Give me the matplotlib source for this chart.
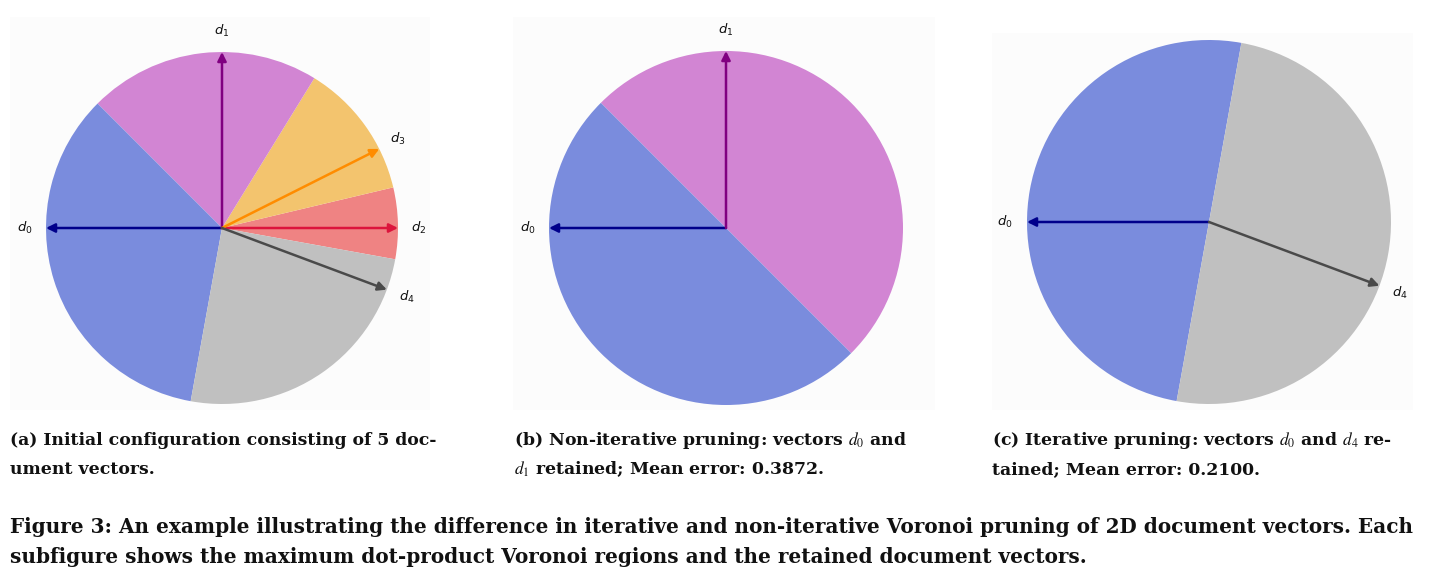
import numpy as np
import matplotlib
matplotlib.use('Agg')
import matplotlib.pyplot as plt
from matplotlib.patches import Wedge

# document vectors: name, angle (degrees), arrow colour, region colour
vec_names = ['d_0', 'd_1', 'd_2', 'd_3', 'd_4']
vec_angles = [180.0, 90.0, 0.0, 26.7, -20.5]
vec_colors = ['#00008b', '#800080', '#dc143c', '#ff8c00', '#4a4a4a']
region_colors = ['#7a8cdd', '#d285d3', '#ef8383', '#f3c46e', '#c0c0c0']

# retained vectors for each subfigure
panel_keep = [[0, 1, 2, 3, 4], [0, 1], [0, 4]]

sub_captions = [
    ['(a) Initial configuration consisting of 5 doc-', 'ument vectors.'],
    ['(b) Non-iterative pruning: vectors $d_0$ and', '$d_1$ retained; Mean error: 0.3872.'],
    ['(c) Iterative pruning: vectors $d_0$ and $d_4$ re-', 'tained; Mean error: 0.2100.'],
]
fig_caption = [
    'Figure 3: An example illustrating the difference in iterative and non-iterative Voronoi pruning of 2D document vectors. Each',
    'subfigure shows the maximum dot-product Voronoi regions and the retained document vectors.',
]

W, H = 1438, 581
fig = plt.figure(figsize=(W / 100, H / 100), dpi=100)

# pixel layout of each panel: box (left, right, top, bottom), centre, radius
boxes = [(10, 430, 17, 410), (513, 935, 17, 410), (992, 1413, 33, 410)]
centres = [(222, 228), (726, 228), (1209, 222)]
radii = [176, 177, 182]
cap_x = [10, 514, 992]


def regions(idx):
    # max dot-product Voronoi cells on the unit circle = arcs between bisectors
    ang = sorted([(vec_angles[i] % 360, i) for i in idx])
    out = []
    n = len(ang)
    for k in range(n):
        a, i = ang[k]
        prev = ang[k - 1][0]
        nxt = ang[(k + 1) % n][0]
        if prev >= a:
            prev -= 360
        if nxt <= a:
            nxt += 360
        out.append((i, (a + prev) / 2, (a + nxt) / 2))
    return out


for p, keep in enumerate(panel_keep):
    l, r, t, b = boxes[p]
    cx, cy = centres[p]
    R = radii[p]
    ax = fig.add_axes([l / W, 1 - b / H, (r - l) / W, (b - t) / H])
    ax.set_xlim((l - cx) / R, (r - cx) / R)
    ax.set_ylim((cy - b) / R, (cy - t) / R)
    ax.set_facecolor('#fcfcfc')
    for s in ax.spines.values():
        s.set_visible(False)
    ax.set_xticks([])
    ax.set_yticks([])

    for i, th1, th2 in regions(keep):
        ax.add_patch(Wedge((0, 0), 1.0, th1, th2, facecolor=region_colors[i],
                           edgecolor='none', zorder=1))

    for i in keep:
        a = np.deg2rad(vec_angles[i])
        ux, uy = np.cos(a), np.sin(a)
        ax.annotate('', xy=(ux, uy), xytext=(0, 0),
                    arrowprops=dict(arrowstyle='-|>', color=vec_colors[i], lw=1.8,
                                    mutation_scale=13, shrinkA=0, shrinkB=0),
                    zorder=3)
        ax.text(1.12 * ux, 1.12 * uy, '$' + vec_names[i] + '$', fontsize=9.5,
                ha='center', va='center', color='#111111')

    for k, line in enumerate(sub_captions[p]):
        fig.text(cap_x[p] / W, 1 - (445 + 29 * k) / H, line, fontsize=12.4,
                 fontweight='bold', family='DejaVu Serif', math_fontfamily='stix',
                 ha='left', va='baseline', color='#111111')

for k, line in enumerate(fig_caption):
    fig.text(10 / W, 1 - (533 + 30 * k) / H, line, fontsize=14.4, fontweight='bold',
             family='DejaVu Serif', ha='left', va='baseline', color='#111111')

fig.savefig('out.png', dpi=100, facecolor='white')
